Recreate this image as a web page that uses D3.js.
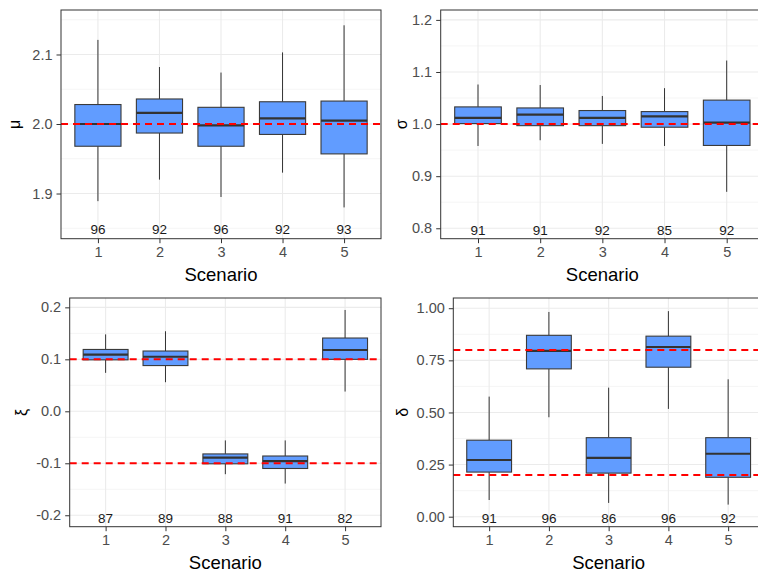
<!DOCTYPE html>
<html>
<head>
<meta charset="utf-8">
<script src="https://cdn.jsdelivr.net/npm/d3@7"></script>
<style>
  html, body { margin: 0; padding: 0; background: #fff; overflow: hidden; }
  svg { display: block; font-family: "Liberation Sans", Arial, sans-serif; }
</style>
</head>
<body>
<svg id="chart" width="758" height="576"></svg>
<script>
// Scenarios on the x axis
const scenarios = [1, 2, 3, 4, 5];

// Box statistics per scenario: [lower whisker, Q1, median, Q3, upper whisker]
const muBoxes = [
  [1.889, 1.968, 2.000, 2.028, 2.121],
  [1.920, 1.987, 2.016, 2.036, 2.082],
  [1.895, 1.968, 1.998, 2.024, 2.074],
  [1.930, 1.985, 2.008, 2.032, 2.103],
  [1.880, 1.957, 2.005, 2.033, 2.142]
];
const sigmaBoxes = [
  [0.958, 1.001, 1.012, 1.033, 1.076],
  [0.969, 0.997, 1.018, 1.031, 1.075],
  [0.962, 0.997, 1.012, 1.026, 1.054],
  [0.958, 0.994, 1.015, 1.024, 1.069],
  [0.870, 0.959, 1.003, 1.046, 1.122]
];
const xiBoxes = [
  [0.074, 0.099, 0.109, 0.119, 0.148],
  [0.056, 0.088, 0.105, 0.116, 0.154],
  [-0.121, -0.101, -0.089, -0.082, -0.056],
  [-0.139, -0.110, -0.096, -0.086, -0.056],
  [0.038, 0.100, 0.118, 0.141, 0.195]
];
const deltaBoxes = [
  [0.080, 0.214, 0.272, 0.367, 0.576],
  [0.477, 0.709, 0.795, 0.870, 0.982],
  [0.066, 0.209, 0.282, 0.379, 0.619],
  [0.517, 0.717, 0.814, 0.866, 0.986],
  [0.058, 0.189, 0.302, 0.379, 0.659]
];

// Counts printed under each box
const muCounts = [96, 92, 96, 92, 93];
const sigmaCounts = [91, 91, 92, 85, 92];
const xiCounts = [87, 89, 88, 91, 82];
const deltaCounts = [91, 96, 86, 96, 92];

// True parameter values (red dashed references)
const muTrue = [2.0];
const sigmaTrue = [1.0];
const xiTrue = [0.1, -0.1];
const deltaTrue = [0.8, 0.2];

// Axis ticks
const muTicks = [1.9, 2.0, 2.1];
const sigmaTicks = [0.8, 0.9, 1.0, 1.1, 1.2];
const xiTicks = [-0.2, -0.1, 0.0, 0.1, 0.2];
const deltaTicks = [0.00, 0.25, 0.50, 0.75, 1.00];

// y ranges (data extent plus expansion)
const muDomain = [1.835, 2.164];
const sigmaDomain = [0.780, 1.219];
const xiDomain = [-0.222, 0.218];
const deltaDomain = [-0.048, 1.049];

// y value where the counts are written
const muCountY = [1.849];
const sigmaCountY = [0.797];
const xiCountY = [-0.206];
const deltaCountY = [-0.006];

const fmt = (p) => (v) => d3.format("." + p + "f")(v).replace("\u2212", "-");

const panels = [
  { title: "\u03bc", boxes: muBoxes, counts: muCounts, refs: muTrue, ticks: muTicks,
    domain: muDomain, countY: muCountY[0], fmt: fmt(1),
    box: [61, 381, 10, 238.7], titleX: 20 },
  { title: "\u03c3", boxes: sigmaBoxes, counts: sigmaCounts, refs: sigmaTrue, ticks: sigmaTicks,
    domain: sigmaDomain, countY: sigmaCountY[0], fmt: fmt(1),
    box: [440.7, 764, 10, 238.7], titleX: 406.5 },
  { title: "\u03be", boxes: xiBoxes, counts: xiCounts, refs: xiTrue, ticks: xiTicks,
    domain: xiDomain, countY: xiCountY[0], fmt: fmt(1),
    box: [69.7, 381, 298, 526.7], titleX: 26.5 },
  { title: "\u03b4", boxes: deltaBoxes, counts: deltaCounts, refs: deltaTrue, ticks: deltaTicks,
    domain: deltaDomain, countY: deltaCountY[0], fmt: fmt(2),
    box: [453.3, 764, 298, 526.7], titleX: 408 }
];

const svg = d3.select("#chart");
const boxWidth = 0.75;

panels.forEach((p) => {
  const [x0, x1, y0, y1] = p.box;
  const x = d3.scaleLinear().domain([0.4, 5.6]).range([x0, x1]);
  const y = d3.scaleLinear().domain(p.domain).range([y1, y0]);
  const g = svg.append("g");

  g.append("rect").attr("x", x0).attr("y", y0).attr("width", x1 - x0).attr("height", y1 - y0)
    .attr("fill", "#ffffff");

  // minor grid halfway between major ticks
  const step = p.ticks[1] - p.ticks[0];
  const minor = [p.ticks[0] - step / 2].concat(p.ticks.map((t) => t + step / 2))
    .filter((v) => v > p.domain[0] && v < p.domain[1]);
  g.selectAll(".minor").data(minor).join("line")
    .attr("x1", x0).attr("x2", x1).attr("y1", (d) => y(d)).attr("y2", (d) => y(d))
    .attr("stroke", "#f2f2f2").attr("stroke-width", 0.8);
  g.selectAll(".majory").data(p.ticks).join("line")
    .attr("x1", x0).attr("x2", x1).attr("y1", (d) => y(d)).attr("y2", (d) => y(d))
    .attr("stroke", "#ebebeb").attr("stroke-width", 1.1);
  g.selectAll(".majorx").data(scenarios).join("line")
    .attr("x1", (d) => x(d)).attr("x2", (d) => x(d)).attr("y1", y0).attr("y2", y1)
    .attr("stroke", "#ebebeb").attr("stroke-width", 1.1);

  // boxplots
  const bw = (x(1 + boxWidth) - x(1)) / 2;
  const bg = g.selectAll(".bx").data(p.boxes).join("g");
  bg.append("line")
    .attr("x1", (d, i) => x(scenarios[i])).attr("x2", (d, i) => x(scenarios[i]))
    .attr("y1", (d) => y(d[4])).attr("y2", (d) => y(d[3]))
    .attr("stroke", "#333333").attr("stroke-width", 1);
  bg.append("line")
    .attr("x1", (d, i) => x(scenarios[i])).attr("x2", (d, i) => x(scenarios[i]))
    .attr("y1", (d) => y(d[1])).attr("y2", (d) => y(d[0]))
    .attr("stroke", "#333333").attr("stroke-width", 1);
  bg.append("rect")
    .attr("x", (d, i) => x(scenarios[i]) - bw).attr("width", 2 * bw)
    .attr("y", (d) => y(d[3])).attr("height", (d) => y(d[1]) - y(d[3]))
    .attr("fill", "#619cff").attr("stroke", "#3a3a3a").attr("stroke-width", 1.1);
  bg.append("line")
    .attr("x1", (d, i) => x(scenarios[i]) - bw).attr("x2", (d, i) => x(scenarios[i]) + bw)
    .attr("y1", (d) => y(d[2])).attr("y2", (d) => y(d[2]))
    .attr("stroke", "#333333").attr("stroke-width", 2.2);

  // true values
  g.selectAll(".ref").data(p.refs).join("line")
    .attr("x1", x0).attr("x2", x1).attr("y1", (d) => y(d)).attr("y2", (d) => y(d))
    .attr("stroke", "#ff0000").attr("stroke-width", 2).attr("stroke-dasharray", "7,5");

  // counts
  g.selectAll(".cnt").data(p.counts).join("text")
    .attr("x", (d, i) => x(scenarios[i])).attr("y", y(p.countY)).attr("dy", "0.36em")
    .attr("text-anchor", "middle").attr("font-size", "13.5px").attr("fill", "#1a1a1a")
    .text((d) => d);

  // border
  g.append("rect").attr("x", x0).attr("y", y0).attr("width", x1 - x0).attr("height", y1 - y0)
    .attr("fill", "none").attr("stroke", "#333333").attr("stroke-width", 1);

  // axes
  const ay = g.append("g").attr("transform", `translate(${x0},0)`)
    .call(d3.axisLeft(y).tickValues(p.ticks).tickFormat(p.fmt).tickSize(4.5).tickPadding(4));
  const ax = g.append("g").attr("transform", `translate(0,${y1})`)
    .call(d3.axisBottom(x).tickValues(scenarios).tickFormat(d3.format("d")).tickSize(4.5).tickPadding(4));
  [ay, ax].forEach((a) => {
    a.select(".domain").remove();
    a.selectAll(".tick line").attr("stroke", "#333333");
    a.selectAll(".tick text").attr("fill", "#4d4d4d").attr("font-size", "14.5px")
      .attr("font-family", "Liberation Sans, Arial, sans-serif");
  });

  // axis titles
  g.append("text").attr("x", (x0 + x1) / 2).attr("y", y1 + 42)
    .attr("text-anchor", "middle").attr("font-size", "18.5px").attr("fill", "#000")
    .text("Scenario");
  g.append("text")
    .attr("transform", `translate(${p.titleX},${(y0 + y1) / 2}) rotate(-90)`)
    .attr("text-anchor", "middle").attr("font-size", "16px").attr("fill", "#000")
    .text(p.title);
});
</script>
</body>
</html>
